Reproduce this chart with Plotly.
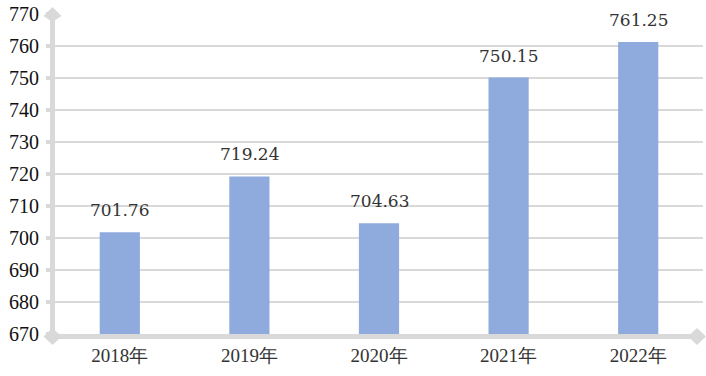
import plotly.graph_objects as go

categories = ["2018年", "2019年", "2020年", "2021年", "2022年"]
values = [701.76, 719.24, 704.63, 750.15, 761.25]
value_labels = ["701.76", "719.24", "704.63", "750.15", "761.25"]
y_ticks = [670, 680, 690, 700, 710, 720, 730, 740, 750, 760, 770]

BAR = "#8FAADC"
GREY = "#d9d9d9"

fig = go.Figure()
fig.add_trace(go.Bar(
    x=categories, y=values, marker_color=BAR, width=0.31,
    marker_line_width=0, hoverinfo="x+y",
))

for c, v, t in zip(categories, values, value_labels):
    fig.add_annotation(x=c, y=v, text=t, showarrow=False, yanchor="middle",
                       yshift=22, font=dict(family="DejaVu Serif", size=17, color="#333333"))

for (xa, ya) in [(0, 1), (0, 0), (1, 0)]:
    fig.add_shape(type="path", xref="paper", yref="paper",
                  xsizemode="pixel", ysizemode="pixel",
                  xanchor=xa, yanchor=ya,
                  path=("M -2.5 7 L 6.5 -2 L -2.5 -8 L -11.5 -2 Z" if (xa, ya) == (0, 1) else
                        "M -2.5 6 L 6.5 -2.5 L -2.5 -11 L -11.5 -2.5 Z" if (xa, ya) == (0, 0) else
                        "M 3 -2.5 L -6 6 L -15 -2.5 L -6 -11 Z"),
                  fillcolor=GREY, line_width=0, layer="above")

fig.update_layout(
    width=706, height=376,
    margin=dict(l=55, r=3, t=14, b=42),
    paper_bgcolor="white", plot_bgcolor="white",
    showlegend=False,
    xaxis=dict(
        type="category", range=[-0.5, 4.5],
        showline=True, linecolor=GREY, linewidth=5,
        showgrid=False, ticks="",
        tickfont=dict(family="Liberation Serif", size=19, color="#333333"),
    ),
    yaxis=dict(
        range=[670, 770], tickvals=y_ticks,
        showline=True, linecolor=GREY, linewidth=5,
        showgrid=True, gridcolor=GREY, gridwidth=2,
        ticks="outside", ticklen=4, tickwidth=4, tickcolor=GREY,
        ticklabelstandoff=3,
        zeroline=False,
        tickfont=dict(family="Liberation Serif", size=20, color="#111111"),
    ),
)

fig.write_html("out.html")
